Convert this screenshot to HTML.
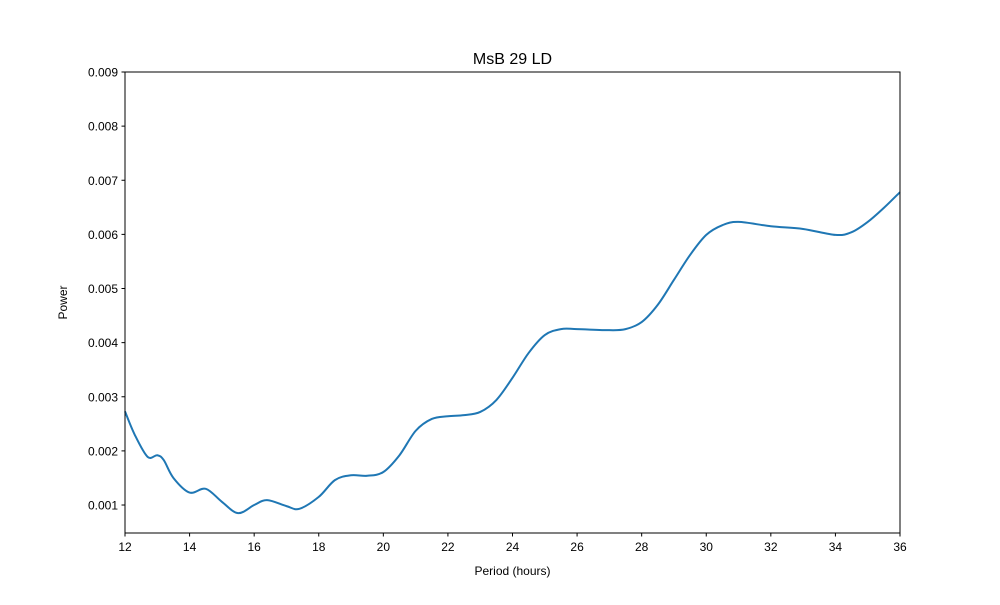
<!DOCTYPE html>
<html><head><meta charset="utf-8"><style>
body{margin:0;background:#fff;}
svg text{font-family:"Liberation Sans",sans-serif;}
</style></head><body>
<svg id="chart" width="1000" height="600" xmlns="http://www.w3.org/2000/svg">
<rect width="1000" height="600" fill="#fff"/>
<text x="512.5" y="64" text-anchor="middle" font-size="16">MsB 29 LD</text>
<g id="axes"></g>
<path id="line" fill="none" stroke="#1f77b4" stroke-width="2"/>
<rect x="125" y="72" width="775" height="461" fill="none" stroke="#000" stroke-width="1"/>
<text x="512.5" y="575" text-anchor="middle" font-size="12">Period (hours)</text>
<text transform="translate(67,302.5) rotate(-90)" text-anchor="middle" font-size="12">Power</text>
</svg>
<script>
const periods=[12,12.3,12.7,13,13.2,13.5,14,14.5,15,15.5,16,16.4,17,17.4,18,18.5,19,19.5,20,20.5,21,21.5,22,22.5,23,23.5,24,24.5,25,25.5,26,27,27.5,28,28.5,29,29.5,30,30.5,31,32,33,34,34.5,35,35.5,36];
const power=[0.00273,0.0023,0.00189,0.00192,0.00183,0.0015,0.00123,0.0013,0.00106,0.00085,0.001,0.00109,0.00098,0.00093,0.00115,0.00146,0.00155,0.00154,0.00161,0.00192,0.00237,0.00259,0.00264,0.00266,0.00272,0.00294,0.00335,0.00381,0.00414,0.00425,0.00425,0.00423,0.00425,0.00438,0.0047,0.00516,0.00562,0.00599,0.00617,0.00623,0.00615,0.0061,0.00599,0.00604,0.00623,0.00649,0.00678];
const xTicks=[12,14,16,18,20,22,24,26,28,30,32,34,36];
const yTicks=[0.001,0.002,0.003,0.004,0.005,0.006,0.007,0.008,0.009];
const X0=125,X1=900,Y0=533,Y1=72,xmin=12,xmax=36,ymin=0.000483,ymax=0.009;
const sx=v=>X0+(v-xmin)/(xmax-xmin)*(X1-X0);
const sy=v=>Y0-(v-ymin)/(ymax-ymin)*(Y0-Y1);
const NS="http://www.w3.org/2000/svg",g=document.getElementById('axes');
function mk(t,a){const e=document.createElementNS(NS,t);for(const k in a)e.setAttribute(k,a[k]);g.appendChild(e);return e;}
xTicks.forEach(t=>{const x=sx(t);
const l=mk('line',{x1:x,x2:x,y1:533,y2:536.5,stroke:'#000'});


const tx=mk('text',{x:x,y:551,'text-anchor':'middle','font-size':12});tx.textContent=t;

});
yTicks.forEach(t=>{const y=sy(t);
const l=mk('line',{x1:121.5,x2:125,y1:y,y2:y,stroke:'#000'});


const tx=mk('text',{x:118,y:y+4.5,'text-anchor':'end','font-size':12});tx.textContent=t.toFixed(3);

});
const pts=periods.map((p,i)=>[sx(p),sy(power[i])]);
let d='M'+pts[0][0]+','+pts[0][1];
for(let i=0;i<pts.length-1;i++){const p0=pts[Math.max(0,i-1)],p1=pts[i],p2=pts[i+1],p3=pts[Math.min(pts.length-1,i+2)];
d+=' C'+(p1[0]+(p2[0]-p0[0])/6)+','+(p1[1]+(p2[1]-p0[1])/6)+' '+(p2[0]-(p3[0]-p1[0])/6)+','+(p2[1]-(p3[1]-p1[1])/6)+' '+p2[0]+','+p2[1];}
document.getElementById('line').setAttribute('d',d);
</script>
</body></html>
